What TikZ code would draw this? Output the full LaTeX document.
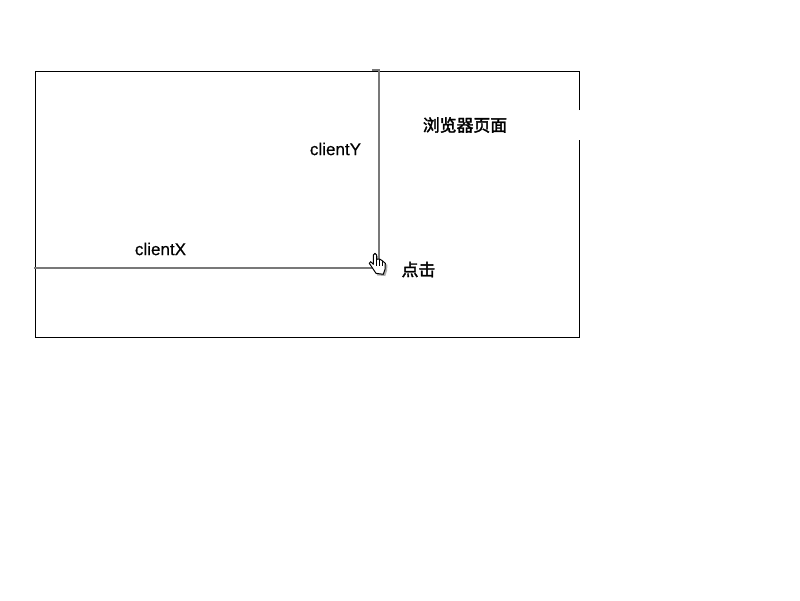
\documentclass[tikz,border=0pt]{standalone}
\usepackage{fontspec}
\usepackage{xcolor}
\setmainfont[FakeBold=0.3]{Liberation Sans}
\newfontfamily\cjk[FakeBold=2]{Noto Sans CJK SC}
\definecolor{lineGray}{RGB}{120,120,120}
\tikzset{
  lbl/.style={inner sep=0pt, font=\fontsize{9.7pt}{11pt}\selectfont},
  lblcn/.style={inner sep=0pt, font=\fontsize{9.6pt}{11pt}\selectfont\cjk},
  frameline/.style={line width=0.57pt, black},
  axisline/.style={line width=1.13pt, lineGray}
}

\begin{document}
\begin{tikzpicture}[x=0.02cm,y=-0.02cm]
\useasboundingbox (0,0) rectangle (800,600);
% page frame, open on the right beside the title
\draw[frameline] (579.5,110) -- (579.5,71.5) -- (35.5,71.5) -- (35.5,337.5) -- (579.5,337.5) -- (579.5,140);
\node[lblcn] (title) at (465,125) {浏览器页面};
\node[lbl] (clientY) at (335.5,149) {clientY};
\node[lbl] (clientX) at (160.5,249) {clientX};
\node[lblcn] (click) at (418.5,269.5) {点击};
\coordinate (topY) at (379,70);
\coordinate (tickY) at (372,70);
\coordinate (endY) at (379,262);
\coordinate (startX) at (34,268);
\coordinate (endX) at (372,268);
\draw[axisline] (tickY) -- (topY) -- (endY);
\draw[axisline] (startX) -- (endX);
% hand cursor
\fill[black!45, opacity=0.7] (377.5,275.5) -- (370.8,265) -- (375,266) -- (375,256) -- (378.2,256) -- (378.2,261) -- (387.5,264.8) -- (387,270.8) -- (385.3,276) -- cycle;
\draw[line width=0.57pt, fill=white, line join=round] (376,273.3) -- (369.3,263.3) -- (370.7,261.7) -- (373.3,264.3) -- (373.3,255) -- (375,253.3) -- (376.7,255) -- (376.7,259.3) -- (379.5,259) -- (382,260.5) -- (385.3,263.3) -- (385,269.3) -- (383.3,274.3) -- cycle;
\draw[line width=0.4pt] (376.7,259.3) -- (376.7,266) (379.5,259) -- (379.5,266) (382,260.5) -- (382,266);
\end{tikzpicture}
\end{document}
